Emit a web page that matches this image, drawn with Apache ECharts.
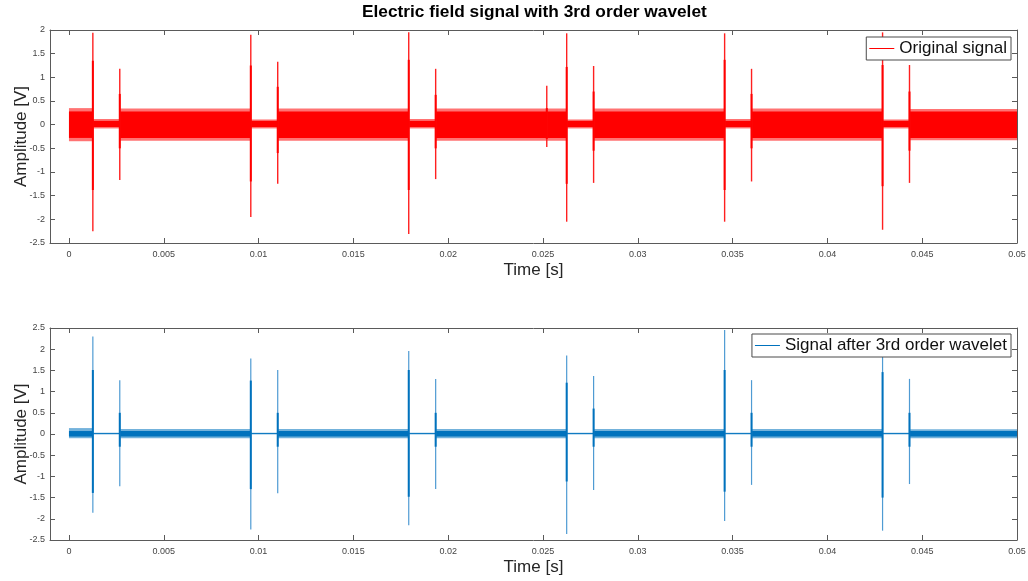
<!DOCTYPE html>
<html>
<head>
<meta charset="utf-8">
<title>Electric field signal with 3rd order wavelet</title>
<script src="https://cdn.jsdelivr.net/npm/echarts@6/dist/echarts.min.js"></script>
<style>
  html, body { margin: 0; padding: 0; background: #ffffff; }
  #chart { width: 1028px; height: 581px; }
</style>
</head>
<body>
<div id="chart"></div>
<script>
// ---- Data -----------------------------------------------------------------
const timeTicks = [0, 0.005, 0.01, 0.015, 0.02, 0.025, 0.03, 0.035, 0.04, 0.045, 0.05];

// Recording stretches: wide oscillating band alternating with short quiet gaps
const segStart = [0, 0.00126, 0.00268, 0.00959, 0.01101, 0.01792, 0.01934, 0.02625, 0.02767, 0.03458, 0.03600, 0.04291, 0.04433];
const segEnd   = [0.00126, 0.00268, 0.00959, 0.01101, 0.01792, 0.01934, 0.02625, 0.02767, 0.03458, 0.03600, 0.04291, 0.04433, 0.05];

// Original signal: envelope of each stretch (outer peaks and dense core), volts
const origPeakHi = [0.35, 0.12, 0.34, 0.11, 0.34, 0.12, 0.34, 0.11, 0.34, 0.12, 0.34, 0.11, 0.33];
const origPeakLo = [-0.35, -0.08, -0.34, -0.08, -0.34, -0.08, -0.34, -0.08, -0.34, -0.08, -0.34, -0.08, -0.33];
const origCoreHi = [0.28, 0.08, 0.28, 0.08, 0.28, 0.08, 0.28, 0.08, 0.28, 0.08, 0.28, 0.08, 0.28];
const origCoreLo = [-0.28, -0.05, -0.28, -0.05, -0.28, -0.05, -0.28, -0.05, -0.28, -0.05, -0.28, -0.05, -0.28];

// Original signal: switching transients (time, extreme swing, inner burst)
const origSpikeT   = [0.00126, 0.00268, 0.00959, 0.01101, 0.01792, 0.01934, 0.02520, 0.02625, 0.02767, 0.03458, 0.03600, 0.04291, 0.04433];
const origSpikeMax = [1.94, 1.18, 1.90, 1.33, 1.95, 1.18, 0.82, 1.93, 1.24, 1.93, 1.18, 1.95, 1.26];
const origSpikeMin = [-2.25, -1.17, -1.95, -1.25, -2.31, -1.15, -0.47, -2.05, -1.23, -2.05, -1.20, -2.22, -1.23];
const origBurstMax = [1.35, 0.65, 1.25, 0.80, 1.37, 0.63, 0.35, 1.22, 0.70, 1.37, 0.65, 1.26, 0.70];
const origBurstMin = [-1.38, -0.50, -1.20, -0.60, -1.38, -0.50, -0.30, -1.25, -0.55, -1.38, -0.50, -1.30, -0.55];

// Signal after 3rd order wavelet: envelope of each stretch, volts
const filtPeakHi = [0.14, 0.03, 0.12, 0.03, 0.12, 0.03, 0.12, 0.03, 0.12, 0.03, 0.12, 0.03, 0.11];
const filtPeakLo = [-0.10, -0.01, -0.10, -0.01, -0.10, -0.01, -0.10, -0.01, -0.10, -0.01, -0.10, -0.01, -0.10];
const filtCoreHi = [0.07, 0.02, 0.07, 0.02, 0.07, 0.02, 0.07, 0.02, 0.07, 0.02, 0.07, 0.02, 0.07];
const filtCoreLo = [-0.06, 0.00, -0.06, 0.00, -0.06, 0.00, -0.06, 0.00, -0.06, 0.00, -0.06, 0.00, -0.06];

// Signal after 3rd order wavelet: transients
const filtSpikeT   = [0.00126, 0.00268, 0.00959, 0.01101, 0.01792, 0.01934, 0.02625, 0.02767, 0.03458, 0.03600, 0.04291, 0.04433];
const filtSpikeMax = [2.30, 1.27, 1.78, 1.51, 1.96, 1.30, 1.85, 1.37, 2.45, 1.27, 1.90, 1.30];
const filtSpikeMin = [-1.86, -1.23, -2.25, -1.40, -2.15, -1.30, -2.36, -1.32, -2.05, -1.20, -2.28, -1.18];
const filtBurstMax = [1.51, 0.50, 1.26, 0.50, 1.51, 0.50, 1.21, 0.60, 1.51, 0.50, 1.46, 0.50];
const filtBurstMin = [-1.39, -0.30, -1.30, -0.30, -1.48, -0.30, -1.12, -0.30, -1.36, -0.30, -1.50, -0.30];

// ---- Helpers ----------------------------------------------------------------
const FONT = "'Liberation Sans', Arial, Helvetica, sans-serif";
const AXIS_COLOR = '#5a5a5a';
const RED = '#ff0000';
const BLUE = '#0072bd';

const bandRows = (lo, hi) => segStart.map((t, i) => [t, segEnd[i], lo[i], hi[i]]);
const spikeRows = (t, lo, hi) => t.map((v, i) => [v, lo[i], hi[i]]);

// Filled rectangle between the low and high envelope of one stretch
function bandRenderer(color) {
  return function (params, api) {
    const a = api.coord([api.value(0), api.value(3)]);
    const b = api.coord([api.value(1), api.value(2)]);
    return {
      type: 'rect',
      shape: { x: a[0], y: a[1], width: b[0] - a[0], height: b[1] - a[1] },
      style: { fill: color }
    };
  };
}

// Vertical stroke from a transient's minimum to its maximum
function spikeRenderer(color, width) {
  return function (params, api) {
    const top = api.coord([api.value(0), api.value(2)]);
    const bot = api.coord([api.value(0), api.value(1)]);
    return {
      type: 'line',
      shape: { x1: top[0], y1: top[1], x2: bot[0], y2: bot[1] },
      style: { stroke: color, lineWidth: width }
    };
  };
}

function bandSeries(name, color, fill, rows, xi, yi) {
  return {
    type: 'custom', name, xAxisIndex: xi, yAxisIndex: yi, silent: true,
    itemStyle: { color }, renderItem: bandRenderer(fill),
    encode: { x: [0, 1], y: [2, 3] }, data: rows
  };
}

function spikeSeries(name, color, stroke, width, rows, xi, yi) {
  return {
    type: 'custom', name, xAxisIndex: xi, yAxisIndex: yi, silent: true,
    itemStyle: { color }, renderItem: spikeRenderer(stroke, width),
    encode: { x: 0, y: [1, 2] }, data: rows
  };
}

function timeAxis(gridIndex, withLabels) {
  return {
    type: 'value', gridIndex, min: -0.001, max: 0.05,
    position: withLabels ? 'bottom' : 'top',
    splitLine: { show: false },
    axisLine: { show: true, onZero: false, lineStyle: { color: AXIS_COLOR, width: 1 } },
    axisTick: { show: true, inside: true, length: 5, customValues: timeTicks, lineStyle: { color: AXIS_COLOR } },
    axisLabel: withLabels
      ? { show: true, customValues: timeTicks, fontSize: 9, color: '#444', margin: 7, fontFamily: FONT }
      : { show: false },
    name: withLabels ? 'Time [s]' : '',
    nameLocation: 'middle', nameGap: 19, nameMoveOverlap: false,
    nameTextStyle: { fontSize: 17, color: '#262626', fontFamily: FONT }
  };
}

function ampAxis(gridIndex, min, max, withLabels) {
  return {
    type: 'value', gridIndex, min, max, interval: 0.5,
    position: withLabels ? 'left' : 'right',
    splitLine: { show: false },
    axisLine: { show: true, onZero: false, lineStyle: { color: AXIS_COLOR, width: 1 } },
    axisTick: { show: true, inside: true, length: 5, lineStyle: { color: AXIS_COLOR } },
    axisLabel: withLabels
      ? { show: true, fontSize: 9, color: '#444', margin: 5, fontFamily: FONT }
      : { show: false },
    name: withLabels ? 'Amplitude [V]' : '',
    nameLocation: 'middle', nameGap: 20, nameMoveOverlap: false,
    nameTextStyle: { fontSize: 17, color: '#262626', fontFamily: FONT }
  };
}

function legendBox(name, top) {
  return {
    data: [{ name, icon: 'rect' }],
    right: 17, top,
    backgroundColor: '#ffffff', borderColor: '#4a4a4a', borderWidth: 1, borderRadius: 0,
    padding: [3, 4, 3, 3], itemWidth: 25, itemHeight: 1, selectedMode: false,
    textStyle: { fontSize: 17, color: '#111', fontFamily: FONT, lineHeight: 17 }
  };
}

// ---- Chart ------------------------------------------------------------------
const ORIG = 'Original signal';
const FILT = 'Signal after 3rd order wavelet';

const chart = echarts.init(document.getElementById('chart'), null, { renderer: 'canvas' });
chart.setOption({
  animation: false,
  backgroundColor: '#ffffff',
  title: {
    text: 'Electric field signal with 3rd order wavelet',
    left: 362, top: 4, padding: 0,
    textStyle: { fontSize: 17.3, fontWeight: 'bold', color: '#000', fontFamily: FONT }
  },
  legend: [legendBox(ORIG, 37), legendBox(FILT, 334)],
  grid: [
    { left: 50, right: 11, top: 30, height: 213, outerBoundsMode: 'none', containLabel: false },
    { left: 50, right: 11, top: 328, height: 212, outerBoundsMode: 'none', containLabel: false }
  ],
  xAxis: [timeAxis(0, true), timeAxis(0, false), timeAxis(1, true), timeAxis(1, false)],
  yAxis: [ampAxis(0, -2.5, 2, true), ampAxis(0, -2.5, 2, false), ampAxis(1, -2.5, 2.5, true), ampAxis(1, -2.5, 2.5, false)],
  series: [
    bandSeries(ORIG, RED, 'rgba(255,0,0,0.55)', bandRows(origPeakLo, origPeakHi), 0, 0),
    bandSeries(ORIG, RED, RED, bandRows(origCoreLo, origCoreHi), 0, 0),
    spikeSeries(ORIG, RED, '#ff2020', 1.4, spikeRows(origSpikeT, origSpikeMin, origSpikeMax), 0, 0),
    spikeSeries(ORIG, RED, RED, 2, spikeRows(origSpikeT, origBurstMin, origBurstMax), 0, 0),

    bandSeries(FILT, BLUE, 'rgba(0,114,189,0.55)', bandRows(filtPeakLo, filtPeakHi), 2, 2),
    bandSeries(FILT, BLUE, BLUE, bandRows(filtCoreLo, filtCoreHi), 2, 2),
    spikeSeries(FILT, BLUE, '#4f9bd3', 1.2, spikeRows(filtSpikeT, filtSpikeMin, filtSpikeMax), 2, 2),
    spikeSeries(FILT, BLUE, BLUE, 2, spikeRows(filtSpikeT, filtBurstMin, filtBurstMax), 2, 2)
  ]
});
</script>
</body>
</html>
